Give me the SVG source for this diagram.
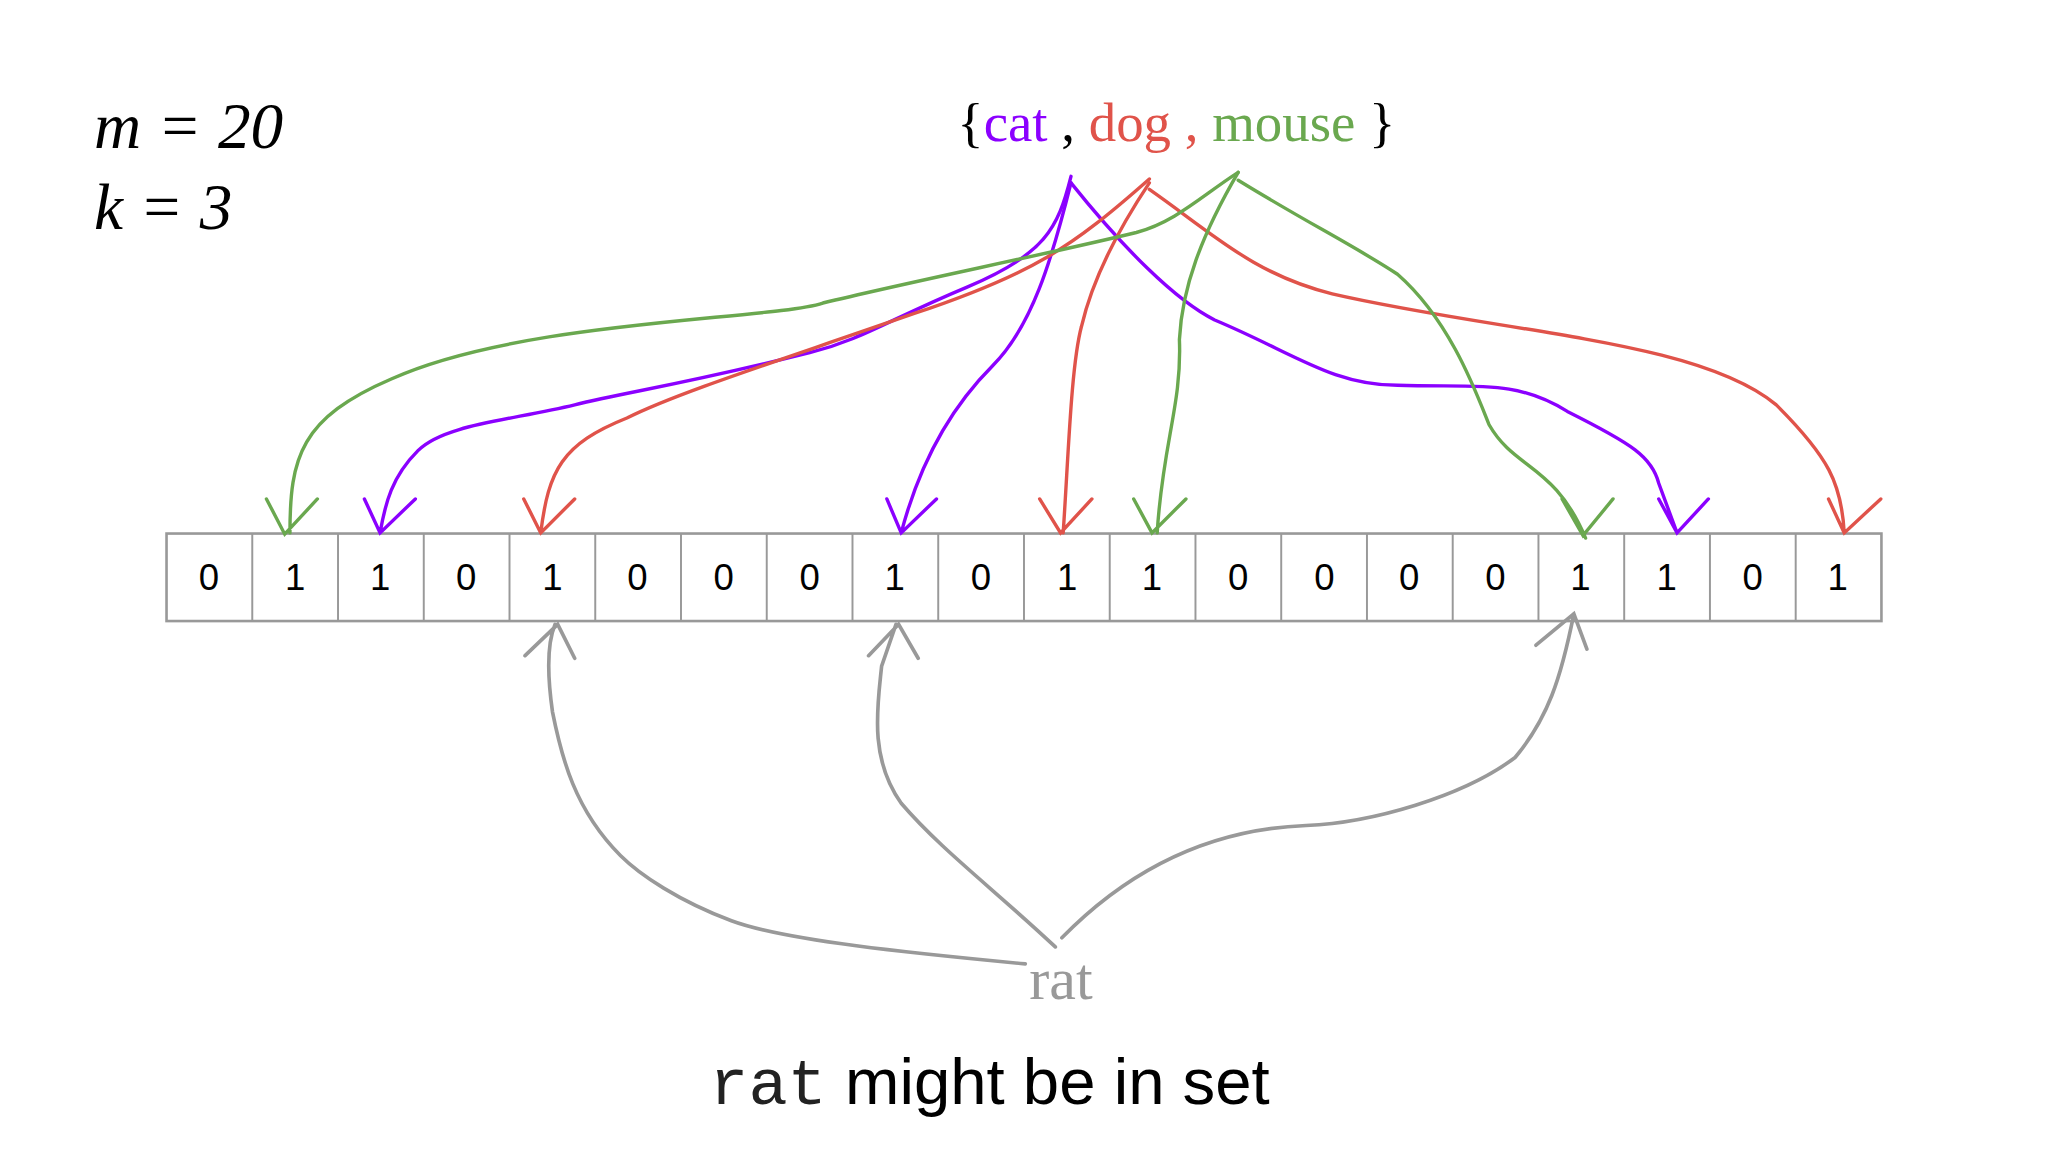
<svg xmlns="http://www.w3.org/2000/svg" width="2048" height="1152" viewBox="0 0 2048 1152">
<style>
.c{fill:none;stroke-width:2.6;stroke-linecap:round}
.p{stroke:#8b00ff}.r{stroke:#e0534a}.g{stroke:#6aa84f}.y{stroke:#999;stroke-width:2.8}
.d{font-family:"Liberation Sans",Arial,sans-serif;font-size:28px;text-anchor:middle;fill:#000}
.t{font-family:"Liberation Serif","Times New Roman",serif}
</style>
<rect width="2048" height="1152" fill="#fff"/>
<g transform="scale(1.3061)">
<g id="params"><text class="t" x="72" y="113" font-size="50" font-style="italic">m = 20</text><text class="t" x="72" y="175" font-size="50" font-style="italic">k = 3</text></g>
<g id="set"><text class="t" x="733" y="108" font-size="42">{<tspan fill="#8b00ff">cat</tspan> , <tspan fill="#e0534a">dog</tspan><tspan fill="#e0534a"> , </tspan><tspan fill="#6aa84f">mouse</tspan> }</text></g>
<g id="array">
<rect x="127.5" y="408.5" width="1313" height="67" fill="#fff" stroke="#999" stroke-width="2"/>
<g stroke="#999" stroke-width="1.5">
<path d="M193.15 408.5V475.5M258.8 408.5V475.5M324.45 408.5V475.5M390.1 408.5V475.5M455.75 408.5V475.5M521.4 408.5V475.5M587.05 408.5V475.5M652.7 408.5V475.5M718.35 408.5V475.5M784 408.5V475.5M849.65 408.5V475.5M915.3 408.5V475.5M980.95 408.5V475.5M1046.6 408.5V475.5M1112.25 408.5V475.5M1177.9 408.5V475.5M1243.55 408.5V475.5M1309.2 408.5V475.5M1374.85 408.5V475.5"/>
</g>
<g class="d">
<text x="160" y="452">0</text><text x="226" y="452">1</text><text x="291" y="452">1</text><text x="357" y="452">0</text><text x="423" y="452">1</text><text x="488" y="452">0</text><text x="554" y="452">0</text><text x="620" y="452">0</text><text x="685" y="452">1</text><text x="751" y="452">0</text><text x="817" y="452">1</text><text x="882" y="452">1</text><text x="948" y="452">0</text><text x="1014" y="452">0</text><text x="1079" y="452">0</text><text x="1145" y="452">0</text><text x="1210" y="452">1</text><text x="1276" y="452">1</text><text x="1342" y="452">0</text><text x="1407" y="452">1</text>
</g>
</g>
<g id="connectors">
<path class="c p" d="M820,135 C810,175 800,195 740,220 C680,245 660,260 620,270 C520,295 480,300 440,310 C390,322 340,325 320,345 C300,365 295,385 291,408 M279,382 L291,408 L318,382"/>
<path class="c p" d="M820,140 C805,200 790,250 760,280 C720,320 700,370 690,408 M679,382 L690,408 L717,382"/>
<path class="c p" d="M820,140 C860,190 900,230 930,245 C990,270 1020,295 1070,295 C1130,297 1160,290 1200,315 C1250,340 1265,350 1270,370 L1284,408 M1270,382 L1284,408 L1308,382"/>
<path class="c r" d="M880,137 C820,190 790,210 700,240 C600,275 520,300 480,320 C430,340 420,360 414,408 M401,382 L414,408 L440,382"/>
<path class="c r" d="M880,140 C850,185 835,220 828,250 C820,280 818,350 814,408 M796,382 L812,408 L836,382"/>
<path class="c r" d="M880,145 C930,180 960,210 1020,225 C1150,255 1300,260 1360,310 C1400,350 1410,370 1412,408 M1400,382 L1412,408 L1440,382"/>
<path class="c g" d="M948,132 C920,150 900,170 870,178 C800,195 700,215 630,232 C590,245 400,245 300,290 C230,320 222,350 222,408 M204,382 L218,409 L243,382"/>
<path class="c g" d="M948,132 C920,180 905,220 903,260 C905,310 890,340 886,408 M868,382 L882,408 L908,382"/>
<path class="c g" d="M948,138 C1000,170 1040,190 1070,210 C1110,245 1130,300 1140,325 C1160,360 1190,355 1214,412 M1196,382 L1212,410 L1235,382"/>
<path class="c y" d="M785,738 C700,730 600,720 560,705 C520,690 490,670 475,655 C440,620 430,580 423,545 C418,510 420,490 425,478 M402,502 L427,478 L440,504"/>
<path class="c y" d="M808,725 C760,680 720,650 690,615 C665,580 672,540 675,510 L686,478 M665,502 L688,478 L703,504"/>
<path class="c y" d="M813,718 C860,670 920,635 1000,632 C1050,630 1120,610 1160,580 C1185,550 1195,520 1205,470 M1176,494 L1205,470 L1215,497"/>
</g>
<g id="rat"><text class="t" x="788" y="765" font-size="46" fill="#999">rat</text></g>
<g id="caption"><text x="543" y="845" font-size="50"><tspan font-family="Liberation Mono,Courier New,monospace" fill="#222">rat</tspan><tspan font-family="Liberation Sans,Arial,sans-serif" dx="14" fill="#000">might be in set</tspan></text></g>
</g>
</svg>
